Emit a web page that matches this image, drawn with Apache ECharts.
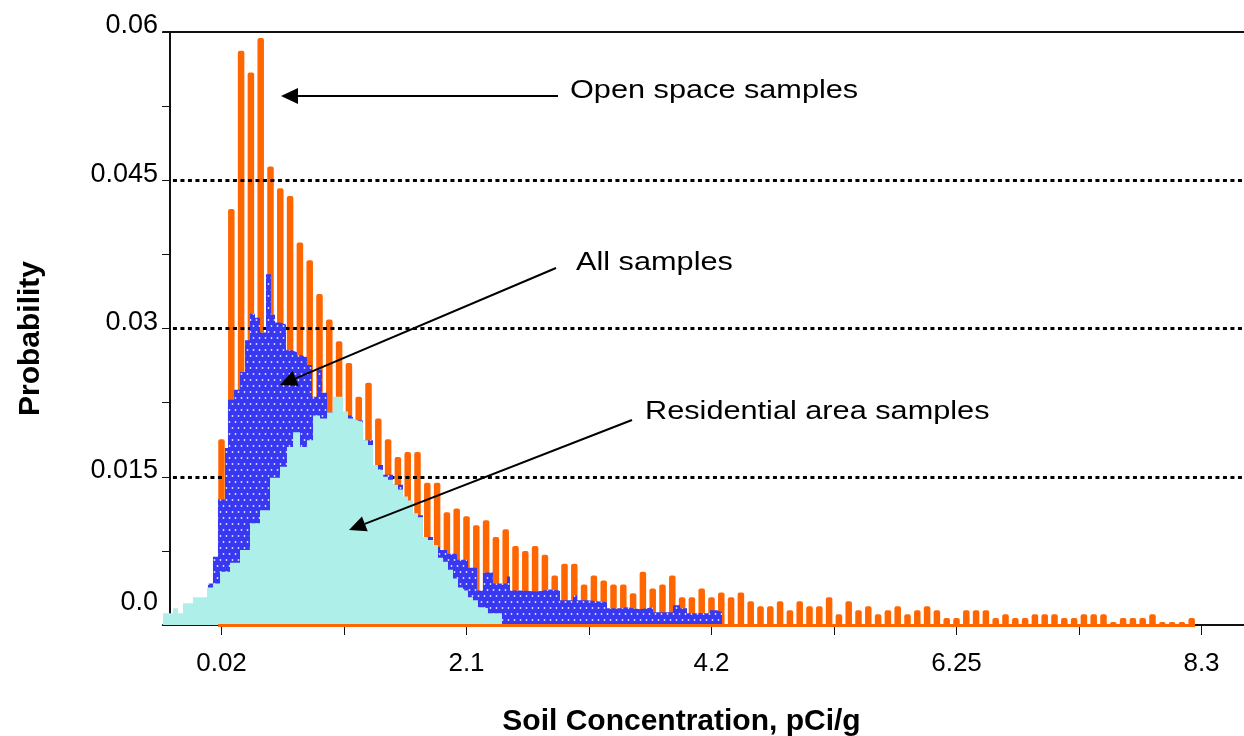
<!DOCTYPE html>
<html>
<head>
<meta charset="utf-8">
<script src="https://cdn.jsdelivr.net/npm/echarts@6/dist/echarts.min.js"></script>
<style>
html, body { margin: 0; padding: 0; background: #fff; }
#chart { width: 1244px; height: 736px; }
</style>
</head>
<body>
<div id="chart"></div>
<script>
// open space histogram, one value per bin (bin k sits at x = k)
var openSpace = [
    0.0188, 0.0421, 0.0581, 0.0559, 0.0594, 0.0464, 0.0442, 0.0434, 0.0387, 0.0369,
    0.0335, 0.0309, 0.0287, 0.0265, 0.0231, 0.0245, 0.0209, 0.0188, 0.0170, 0.0175,
    0.0175, 0.0144, 0.0144, 0.0114, 0.0118, 0.0110, 0.0101, 0.0106, 0.0089, 0.0097,
    0.0080, 0.0075, 0.0080, 0.0071, 0.0050, 0.0062, 0.0062, 0.0041, 0.0050, 0.0045,
    0.0041, 0.0041, 0.0032, 0.0054, 0.0037, 0.0041, 0.0050, 0.0028, 0.0028, 0.0037,
    0.0028, 0.0033, 0.0028, 0.0033, 0.0024, 0.0019, 0.0019, 0.0024, 0.0015, 0.0024,
    0.0019, 0.0019, 0.0028, 0.0011, 0.0024, 0.0015, 0.0019, 0.0011, 0.0015, 0.0019,
    0.0011, 0.0015, 0.0019, 0.0015, 0.0007, 0.0007, 0.0015, 0.0015, 0.0015, 0.0007,
    0.0011, 0.0007, 0.0007, 0.0011, 0.0011, 0.0011, 0.0007, 0.0007, 0.0011, 0.0011,
    0.0011, 0, 0.0007, 0.0007, 0.0007, 0.0011, 0, 0, 0, 0.0007
];

// all samples: step edges (in bin units) and step heights
var allX = [-1.38, -0.87, -0.36, 0.36, 0.66, 1.28, 1.89, 2.40, 2.91, 3.42, 3.93, 4.54, 5.05, 5.46, 5.97,
    6.58, 7.19, 7.70, 8.21, 8.72, 9.23, 9.74, 10.26, 10.77, 11.38, 12.40, 13.42, 14.44, 15.46, 16.48,
    17.50, 18.52, 19.54, 20.56, 21.58, 22.30, 23.01, 24.03, 25.15, 26.07, 26.68, 27.70, 29.13, 29.44,
    30.46, 32.19, 33.52, 34.54, 35.87, 36.28, 37.30, 39.34, 40.66, 41.38, 42.70, 44.03, 46.07, 46.79,
    47.50, 49.85, 50.56, 51.07];
var allY = [0.0042, 0.0069, 0.0127, 0.0179, 0.0228, 0.0238, 0.0256, 0.0288, 0.0315, 0.0311, 0.0296,
    0.0355, 0.0314, 0.0306, 0.0304, 0.0278, 0.0276, 0.0273, 0.0271, 0.0263, 0.0231, 0.0258, 0.0235,
    0.0215, 0.0218, 0.0212, 0.0207, 0.0187, 0.0162, 0.0152, 0.0142, 0.0114, 0.0111, 0.0089, 0.0079,
    0.0076, 0.0072, 0.0066, 0.0058, 0.0035, 0.0053, 0.0042, 0.0049, 0.0035, 0.0034, 0.0036, 0.0035,
    0.0025, 0.0030, 0.0025, 0.0023, 0.0017, 0.0018, 0.0016, 0.0018, 0.0013, 0.0020, 0.0017, 0.0012,
    0.0015, 0.0013, 0];

// residential area samples
var resX = [-5.97, -4.95, -4.44, -3.93, -2.91, -1.48, -0.87, -0.15, 0.87, 1.89, 2.91, 3.93, 4.95, 5.97,
    6.68, 7.30, 8.01, 8.72, 9.34, 10.05, 10.77, 11.38, 12.40, 12.91, 13.42, 13.93, 14.44, 14.95, 15.46,
    15.97, 16.48, 16.99, 17.50, 18.01, 18.52, 19.03, 19.54, 20.05, 20.56, 21.07, 21.58, 22.09, 22.60,
    23.11, 23.62, 24.13, 24.64, 25.15, 25.66, 26.17, 26.68, 27.19, 28.62];
var resY = [0.0012, 0.0017, 0.0012, 0.0022, 0.0028, 0.0038, 0.0042, 0.0054, 0.0063, 0.0076, 0.0103,
    0.0116, 0.0149, 0.0160, 0.0180, 0.0195, 0.0180, 0.0187, 0.0212, 0.0209, 0.0215, 0.0231, 0.0216,
    0.0209, 0.0207, 0.0205, 0.0187, 0.0182, 0.0162, 0.0157, 0.0150, 0.0147, 0.0142, 0.0137, 0.0130,
    0.0126, 0.0113, 0.0109, 0.0089, 0.0086, 0.0081, 0.0068, 0.0064, 0.0056, 0.0047, 0.0038, 0.0035,
    0.0028, 0.0025, 0.0018, 0.0017, 0.0012, 0];

var xLabelBins = [0, 25, 50, 75, 100];
var xTickLabels = ['0.02', '2.1', '4.2', '6.25', '8.3'];
var xTickBins = [0, 12.5, 25, 37.5, 50, 62.5, 75, 87.5, 100];
var yTickLabels = ['0.0', '0.015', '0.03', '0.045', '0.06'];
var gridLevels = [0.015, 0.03, 0.045];

var FONT = 'Liberation Sans, Arial, sans-serif';
// x scale: bin 0 at 221.5px, 9.8px per bin; plot starts at 163px, y axis sits at 170px
var X_MIN = (163 - 221.5) / 9.8;
var X_AXIS_Y = (170 - 221.5) / 9.8;
var X_MAX = (1244 - 221.5) / 9.8;

var dotPattern = function () {
    var c = document.createElement('canvas');
    c.width = 6; c.height = 12;
    var g = c.getContext('2d');
    g.fillStyle = '#3838f0';
    g.fillRect(0, 0, 6, 12);
    g.fillStyle = 'rgba(255,255,255,0.85)';
    g.beginPath(); g.arc(1.5, 2, 0.9, 0, 2 * Math.PI); g.fill();
    g.beginPath(); g.arc(4.5, 8, 0.9, 0, 2 * Math.PI); g.fill();
    return c;
};

var zip = function (xs, ys) {
    return xs.map(function (x, i) { return [x, ys[i]]; });
};

var arrow = function (x1, y1, x2, y2) {
    var a = Math.atan2(y2 - y1, x2 - x1), L = 17, W = 8;
    var bx = x2 - L * Math.cos(a), by = y2 - L * Math.sin(a);
    var px = -Math.sin(a) * W, py = Math.cos(a) * W;
    return [
        {type: 'line', z: 100, shape: {x1: x1, y1: y1, x2: bx, y2: by}, style: {stroke: '#000', lineWidth: 2}},
        {type: 'polygon', z: 100, shape: {points: [[x2, y2], [bx + px, by + py], [bx - px, by - py]]}, style: {fill: '#000'}}
    ];
};

var note = function (text, x, y) {
    return {type: 'text', z: 100, x: x, y: y, scaleX: 1.18,
        style: {text: text, fontSize: 26, fontFamily: FONT, fill: '#000', verticalAlign: 'middle'}};
};

var chart = echarts.init(document.getElementById('chart'));
var option = {
    animation: false,
    backgroundColor: '#fff',
    grid: {left: 163, right: 0, top: 32, bottom: 111, containLabel: false, outerBoundsMode: 'none'},
    xAxis: [{
        type: 'value',
        min: X_MIN,
        max: X_MAX,
        splitLine: {show: false},
        axisLine: {onZero: false, lineStyle: {color: '#111', width: 2}},
        axisTick: {show: true, customValues: xTickBins, length: 10, lineStyle: {color: '#111', width: 1}},
        axisLabel: {
            customValues: xLabelBins, margin: 26, color: '#000', fontSize: 26, fontFamily: FONT,
            formatter: function (v) { return xTickLabels[xLabelBins.indexOf(v)]; }
        },
        name: 'Soil Concentration, pCi/g',
        nameLocation: 'middle',
        nameGap: 82,
        nameTextStyle: {fontSize: 30, fontWeight: 'bold', fontFamily: FONT, color: '#000', padding: [0, 44, 0, 0]}
    }, {
        type: 'value', position: 'top',
        min: X_MIN,
        max: X_MAX,
        axisLine: {show: true, onZero: false, lineStyle: {color: '#111', width: 2}},
        axisTick: {show: false}, axisLabel: {show: false}, splitLine: {show: false}
    }],
    yAxis: {
        type: 'value', min: 0, max: 0.06, interval: 0.015,
        offset: -7,
        splitLine: {show: false},
        axisLine: {show: true, onZero: false, lineStyle: {color: '#111', width: 2}},
        axisTick: {show: true, length: 8, lineStyle: {color: '#111', width: 1}},
        minorTick: {show: true, splitNumber: 2, length: 8, lineStyle: {color: '#111', width: 1}},
        axisLabel: {
            margin: 12, color: '#000', fontSize: 27, fontFamily: FONT,
            formatter: function (v, i) { return (i === 0 ? '{z|' : '{n|') + yTickLabels[i] + '}'; },
            rich: {
                z: {fontSize: 27, fontFamily: FONT, color: '#000', padding: [0, 0, 44, 0]},
                n: {fontSize: 27, fontFamily: FONT, color: '#000', padding: [0, 0, 12, 0]}
            }
        },
        name: 'Probability',
        nameLocation: 'middle',
        nameGap: 124,
        nameTextStyle: {fontSize: 30, fontWeight: 'bold', fontFamily: FONT, color: '#000', padding: [0, 20, 0, 0]}
    },
    series: [{
        name: 'Open space samples',
        type: 'bar',
        z: 1,
        barWidth: 6.5,
        barMinHeight: 3,
        itemStyle: {color: '#ff6600', borderRadius: [2, 2, 0, 0]},
        data: openSpace.map(function (v, k) { return [k, v]; }),
        markLine: {
            silent: true, symbol: 'none', z: 5,
            label: {show: false},
            lineStyle: {color: '#000', type: [4, 3.5], width: 3},
            data: gridLevels.map(function (v) { return [{coord: [X_AXIS_Y + 0.3, v]}, {coord: [X_MAX, v]}]; })
        }
    }, {
        name: 'All samples',
        type: 'line',
        z: 10,
        step: 'end',
        symbol: 'none',
        lineStyle: {width: 0},
        areaStyle: {color: {image: dotPattern(), repeat: 'repeat'}, opacity: 1},
        data: zip(allX, allY)
    }, {
        name: 'Residential area samples',
        type: 'line',
        z: 11,
        step: 'end',
        symbol: 'none',
        lineStyle: {width: 0},
        areaStyle: {color: '#aeefea', opacity: 1},
        data: zip(resX, resY),
        markLine: {
            silent: true, symbol: 'none', z: 12,
            label: {show: false},
            lineStyle: {color: '#ff6600', type: 'solid', width: 3},
            data: [[{coord: [-0.35, 0]}, {coord: [openSpace.length - 1 + 0.35, 0]}]]
        }
    }],
    graphic: [].concat(
        note('Open space samples', 570, 91),
        arrow(558, 96, 281, 96),
        note('All samples', 576, 263),
        arrow(556, 268, 280, 385),
        note('Residential area samples', 645, 412),
        arrow(632, 420, 349, 530)
    )
};
chart.setOption(option);
</script>
</body>
</html>
